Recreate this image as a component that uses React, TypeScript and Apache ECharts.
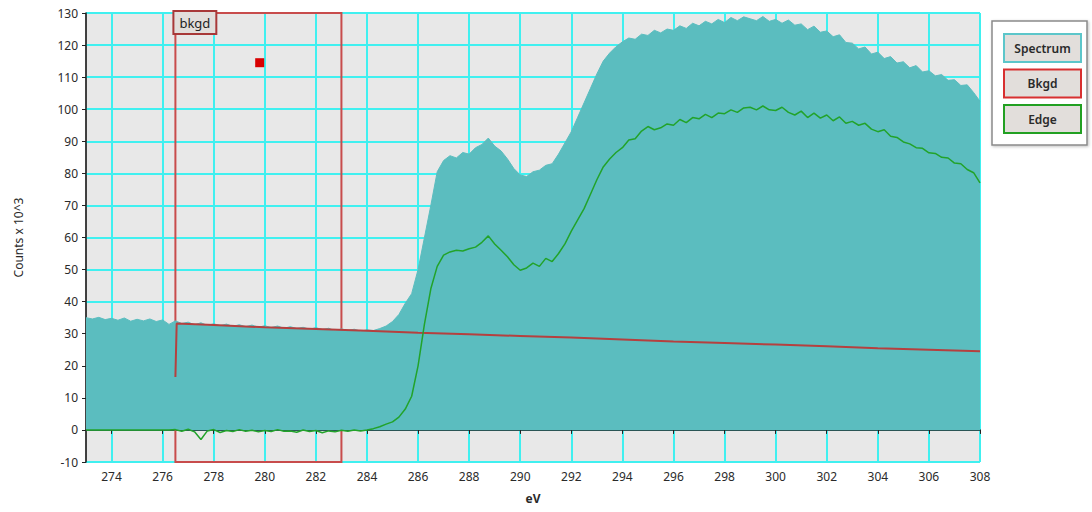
import React, { useEffect, useRef } from "react";
import * as echarts from "echarts";

// Energy sampling of the spectrum / edge arrays (eV)
const E_START = 273;
const E_STEP = 0.25;

// Spectrum counts (x10^3), 273.00 … 308.00 eV in 0.25 eV steps
const spectrum = [
  35.0, 34.6, 35.1, 34.4,
  34.8, 34.2, 34.9, 33.9,
  34.5, 34.0, 34.6, 33.8,
  34.3, 32.9, 34.0, 33.2,
  33.6, 32.8, 33.4, 32.6,
  33.1, 32.5, 33.0, 32.3,
  32.8, 32.2, 32.7, 32.0,
  32.5, 31.9, 32.4, 31.7,
  32.2, 31.6, 32.0, 31.4,
  31.9, 31.3, 31.7, 30.9,
  31.5, 31.0, 31.4, 30.8,
  31.2, 31.0, 31.6, 32.4,
  33.8, 36.0, 39.5, 42.5,
  50.0, 60.0, 70.0, 80.5,
  84.0, 85.5, 84.8, 86.5,
  86.0, 88.0, 89.0, 91.0,
  88.5, 87.0, 84.5, 81.5,
  79.5, 79.0, 80.5, 81.0,
  82.5, 83.0, 86.0, 89.5,
  93.0, 97.5, 102.0, 106.5,
  111.0, 115.0, 117.5, 119.5,
  121.0, 122.2, 121.8, 123.4,
  123.0, 124.6, 123.8, 125.0,
  124.6, 126.0, 125.2, 126.8,
  126.0, 127.4, 126.6, 128.0,
  127.0, 128.6, 127.6, 128.8,
  128.2, 127.6, 128.9, 127.4,
  128.0, 126.8, 127.8, 126.2,
  126.6, 124.8, 125.9, 124.0,
  124.4, 122.6, 123.2, 120.8,
  120.6, 118.8, 119.4, 117.2,
  117.8, 115.8, 116.4, 114.4,
  114.8, 112.9, 113.6, 111.6,
  112.0, 110.4, 110.8, 109.0,
  109.2, 107.4, 107.6, 105.2,
  102.5,
];

// Edge (background-subtracted) counts, same sampling
const edge = [
  0, 0, 0, 0,
  0, 0, 0, 0,
  0, 0, 0, 0,
  0, 0, 0.1, -0.4,
  0.2, -0.6, -3.0, -0.3,
  0.1, -0.8, -0.2, -0.5,
  0.1, -0.4, -0.1, -0.6,
  -0.2, -0.5, 0.1, -0.4,
  -0.3, -0.7, 0.0, -0.5,
  -0.2, -0.9, -0.3, -0.6,
  -0.1, -0.4, 0.0, -0.3,
  0.0, 0.4, 1.0, 1.8,
  2.5, 4.0, 6.5, 10.5,
  20.0, 33.0, 44.0, 51.0,
  54.5, 55.5, 56.0, 55.8,
  56.5, 57.0, 58.5, 60.5,
  58.0, 56.0, 54.0, 51.5,
  49.8, 50.5, 52.0, 51.0,
  53.5, 52.5, 55.0, 58.0,
  62.0, 65.5, 69.0, 73.5,
  78.0, 82.0, 84.5, 86.5,
  88.0, 90.4, 90.8, 93.2,
  94.6, 93.6, 94.2, 95.4,
  95.0, 96.8, 95.8, 97.4,
  97.0, 98.4, 97.4, 98.8,
  98.6, 99.8, 99.0, 100.4,
  100.6, 99.8, 101.0, 99.8,
  99.6, 100.6, 99.0, 98.2,
  99.4, 97.4, 98.8, 97.2,
  98.2, 96.4, 97.6, 95.6,
  96.2, 95.0, 95.6, 93.8,
  93.0, 93.6, 91.6, 91.2,
  89.8, 89.2, 88.0, 87.8,
  86.4, 86.2, 85.0, 84.8,
  83.2, 83.0, 81.2, 80.2,
  77.0,
];

// Background fit line [eV, counts]
const bkgdEnergy = [276.5, 276.55, 278, 280, 282, 284, 286, 288, 290, 292, 294, 296, 298, 300, 302, 304, 306, 308];
const bkgdValues = [16.5, 33.2, 32.7, 32.0, 31.5, 30.9, 30.3, 29.8, 29.3, 28.8, 28.2, 27.6, 27.1, 26.6, 26.1, 25.5, 25.0, 24.5];

// Background window and marker
const bkgdWindow = [276.5, 283];
const bkgdMarker = [279.8, 114.5];

const xTicks = [274, 276, 278, 280, 282, 284, 286, 288, 290, 292, 294, 296, 298, 300, 302, 304, 306, 308];
const legendItems = ["Spectrum", "Bkgd", "Edge"];
const legendColors = ["#5cc6ca", "#d83030", "#22a022"];

const FONT = "Noto Sans";

export default function App() {
  const ref = useRef<HTMLDivElement>(null);

  useEffect(() => {
    if (!ref.current) return;
    const chart = echarts.init(ref.current, undefined, { renderer: "svg" });

    const specData = spectrum.map((v, i) => [E_START + i * E_STEP, v]);
    const edgeData = edge.map((v, i) => [E_START + i * E_STEP, v]);
    const bkgdData = bkgdValues.map((v, i) => [bkgdEnergy[i], v]);

    const legendGraphics: any[] = [
      {
        type: "rect",
        shape: { x: 992, y: 21, width: 95, height: 124 },
        style: { fill: "#ffffff", stroke: "#8a8a8a", lineWidth: 1.5, shadowBlur: 3, shadowColor: "rgba(0,0,0,0.25)", shadowOffsetX: 1, shadowOffsetY: 1 },
      },
    ];
    legendItems.forEach((name, i) => {
      const y = 34 + i * 35.5;
      legendGraphics.push({
        type: "rect",
        shape: { x: 1004, y, width: 77, height: 28 },
        style: { fill: "#e2dedb", stroke: legendColors[i], lineWidth: 2 },
      });
      legendGraphics.push({
        type: "text",
        x: 1042.5,
        y: y + 14,
        style: {
          text: name,
          fill: "#2a2a2a",
          font: `600 12px ${FONT}`,
          align: "center",
          verticalAlign: "middle",
        },
      });
    });

    chart.setOption({
      animation: false,
      backgroundColor: "#ffffff",
      textStyle: { fontFamily: FONT },
      grid: {
        left: 86,
        right: 112,
        top: 13,
        bottom: 50,
        show: true,
        backgroundColor: "#e8e8e8",
        borderColor: "#444",
        borderWidth: 1,
      },
      xAxis: {
        type: "value",
        min: 273,
        max: 308,
        name: "eV",
        nameLocation: "middle",
        nameGap: 30,
        nameTextStyle: { fontSize: 12, fontWeight: "bold", color: "#2a2a2a", fontFamily: FONT },
        axisLine: { show: true, lineStyle: { color: "#222", width: 1.5 } },
        axisTick: { show: true, length: 4, lineStyle: { color: "#222" }, customValues: xTicks },
        axisLabel: { fontSize: 12, color: "#2a2a2a", margin: 8, customValues: xTicks, fontFamily: FONT },
        splitLine: { show: true, lineStyle: { color: "#40f0f0", width: 2 } },
      },
      yAxis: {
        type: "value",
        min: -10,
        max: 130,
        interval: 10,
        name: "Counts x 10^3",
        nameLocation: "middle",
        nameGap: 62,
        nameRotate: 90,
        nameTextStyle: { fontSize: 12, color: "#2a2a2a", fontFamily: FONT },
        axisLine: { show: true, lineStyle: { color: "#222", width: 1.5 } },
        axisTick: { show: true, length: 4, lineStyle: { color: "#222" } },
        axisLabel: { fontSize: 12, color: "#2a2a2a", margin: 8, fontFamily: FONT },
        splitLine: { show: true, lineStyle: { color: "#40f0f0", width: 2 } },
      },
      series: [
        {
          name: "Spectrum",
          type: "line",
          data: specData,
          showSymbol: false,
          symbol: "none",
          lineStyle: { color: "#5bbdbf", width: 1 },
          areaStyle: { color: "#5bbdbf", opacity: 1 },
          z: 1,
        },
        {
          name: "Bkgd",
          type: "line",
          data: bkgdData,
          showSymbol: false,
          symbol: "none",
          lineStyle: { color: "#b5403f", width: 2 },
          z: 3,
          markArea: {
            silent: true,
            itemStyle: { color: "rgba(0,0,0,0)", borderColor: "#c84c4c", borderWidth: 2 },
            label: {
              show: true,
              position: "insideTopLeft",
              distance: 0,
              formatter: "bkgd",
              color: "#222",
              fontSize: 13,
              fontFamily: FONT,
              backgroundColor: "#e2dedb",
              borderColor: "#a83838",
              borderWidth: 2,
              padding: [4, 5, 4, 5],
            },
            data: [[{ xAxis: bkgdWindow[0] }, { xAxis: bkgdWindow[1] }]],
          },
        },
        {
          name: "Edge",
          type: "line",
          data: edgeData,
          showSymbol: false,
          symbol: "none",
          lineStyle: { color: "#22a32a", width: 1.5 },
          z: 4,
        },
        {
          name: "Marker",
          type: "scatter",
          data: [bkgdMarker],
          symbol: "rect",
          symbolSize: 9,
          itemStyle: { color: "#d80000", opacity: 1 },
          z: 5,
        },
      ],
      graphic: legendGraphics,
    });

    return () => chart.dispose();
  }, []);

  return (
    <div
      ref={ref}
      style={{ position: "fixed", left: 0, top: 0, width: 1092, height: 512 }}
    />
  );
}
